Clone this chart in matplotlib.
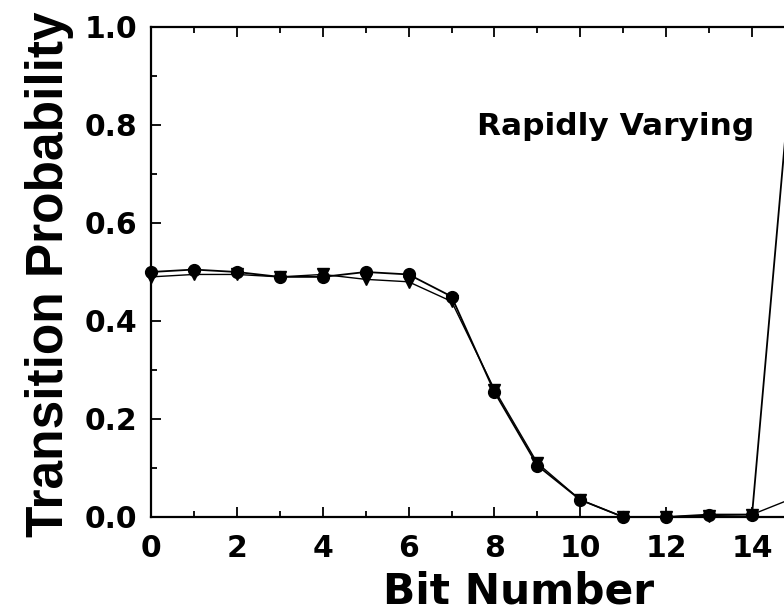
import matplotlib
matplotlib.use('Agg')
import matplotlib.pyplot as plt
from matplotlib.ticker import MultipleLocator, FormatStrFormatter

plt.rcParams['font.family'] = ['DejaVu Sans']
plt.rcParams['font.weight'] = 'bold'

# transition probability per bit position
bits = list(range(16))
circ_vals = [0.500, 0.505, 0.500, 0.490, 0.490, 0.500, 0.495, 0.450, 0.255, 0.105,
             0.035, 0.000, 0.000, 0.005, 0.005, 1.000]
tri_vals = [0.490, 0.495, 0.495, 0.490, 0.495, 0.485, 0.480, 0.440, 0.260, 0.110,
            0.035, 0.000, 0.000, 0.003, 0.005, 0.040]

W, H = 784, 614
fig = plt.figure(figsize=(W / 100, H / 100), dpi=100)
# axes run off the right edge of the figure (x up to 15)
ax = fig.add_axes([151 / W, 97 / H, 644 / W, 490 / H])

ax.plot(bits, circ_vals, color='black', lw=1.3, marker='o', ms=8.5, clip_on=False)
ax.plot(bits, tri_vals, color='black', lw=1.0, marker='v', ms=8.5, clip_on=False)

ax.set_xlim(0, 15)
ax.set_ylim(0, 1.0)
ax.xaxis.set_major_locator(MultipleLocator(2))
ax.xaxis.set_minor_locator(MultipleLocator(1))
ax.yaxis.set_major_locator(MultipleLocator(0.2))
ax.yaxis.set_minor_locator(MultipleLocator(0.1))
ax.yaxis.set_major_formatter(FormatStrFormatter('%.1f'))

ax.tick_params(which='both', direction='in', top=True, right=True, width=1.3)
ax.tick_params(which='major', length=7, labelsize=21.5)
ax.tick_params(axis='y', which='major', pad=10)
ax.tick_params(axis='x', which='major', pad=12)
ax.tick_params(which='minor', length=4)
for s in ax.spines.values():
    s.set_linewidth(1.6)

ax.set_xlabel('Bit Number', fontsize=30.5, fontweight='bold')
ax.xaxis.label.set_va('baseline')
ax.xaxis.set_label_coords(368 / 644, -86 / 490)

ax.set_ylabel('Transition Probability', fontsize=37, fontweight='bold',
              family='Liberation Sans')
ax.yaxis.label.set_va('baseline')
ax.yaxis.set_label_coords(-88 / 644, 243 / 490)

ax.text(7.59, 0.78, 'Rapidly Varying', fontsize=22.5, fontweight='bold', va='baseline')

fig.savefig('out.png', dpi=100)
